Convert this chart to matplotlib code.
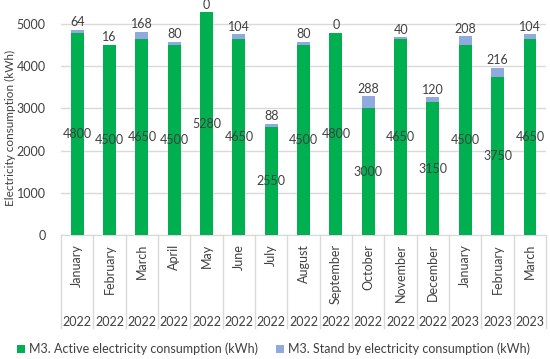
import matplotlib.pyplot as plt
import matplotlib.transforms as mtransforms

months = ["January", "February", "March", "April", "May", "June", "July", "August",
          "September", "October", "November", "December", "January", "February", "March"]
years = ["2022"] * 12 + ["2023"] * 3
active = [4800, 4500, 4650, 4500, 5280, 4650, 2550, 4500, 4800, 3000, 4650, 3150, 4500, 3750, 4650]
standby = [64, 16, 168, 80, 0, 104, 88, 80, 0, 288, 40, 120, 208, 216, 104]

green = "#00B050"
blue = "#8FAADC"
txt = "#404040"
grid = "#D9D9D9"
fs = 9

plt.rcParams['font.family'] = ['Lato', 'DejaVu Sans']
plt.rcParams['font.size'] = fs

fig = plt.figure(figsize=(5.5, 3.59), dpi=100)
ax = fig.add_axes([0.111, 0.3454, 0.882, 0.6462])

x = list(range(len(months)))
ax.bar(x, active, width=0.4, color=green, label="M3. Active electricity consumption (kWh)", zorder=3)
ax.bar(x, standby, width=0.4, bottom=active, color=blue,
       label="M3. Stand by electricity consumption (kWh)", zorder=3)

ax.set_xlim(-0.5, len(months) - 0.5)
ax.set_ylim(0, 5500)
ax.set_yticks([0, 1000, 2000, 3000, 4000, 5000])
ax.yaxis.grid(True, color=grid, linewidth=1)
ax.set_axisbelow(True)
for s in ["top", "right", "left"]:
    ax.spines[s].set_visible(False)
ax.spines["bottom"].set_color(grid)
ax.tick_params(axis="y", length=0, pad=11, colors=txt, labelsize=fs)
ax.set_xticks([])
ax.set_ylabel("Electricity consumption (kWh)", color=txt, fontsize=8.5)
ax.yaxis.set_label_coords(-0.093, 0.46)

# value labels
for i in x:
    ax.text(i, active[i] / 2, str(active[i]), ha="center", va="center", color=txt, fontsize=fs, zorder=4)
    ax.annotate(str(standby[i]), (i, active[i] + standby[i]), xytext=(0, 1),
                textcoords="offset points", ha="center", va="bottom", color=txt, fontsize=fs)

# two-level category axis
trans = mtransforms.blended_transform_factory(ax.transData, ax.transAxes)
h = 232.0
for i in range(len(months) + 1):
    ax.plot([i - 0.5, i - 0.5], [0, -93 / h], transform=trans, color=grid,
            linewidth=1, clip_on=False)
for i in x:
    ax.text(i, -9 / h, months[i], rotation=90, ha="center", va="top",
            transform=trans, color=txt, fontsize=fs)
    ax.text(i, -87 / h, years[i], ha="center", va="center",
            transform=trans, color=txt, fontsize=fs)

fig.legend(loc="center", bbox_to_anchor=(0.497, 1 - 349 / 359), ncol=2, frameon=False,
           handlelength=0.7, handleheight=0.7, handletextpad=0.3, columnspacing=1.4,
           fontsize=fs, labelcolor=txt)

fig.savefig("out.png", dpi=100)
